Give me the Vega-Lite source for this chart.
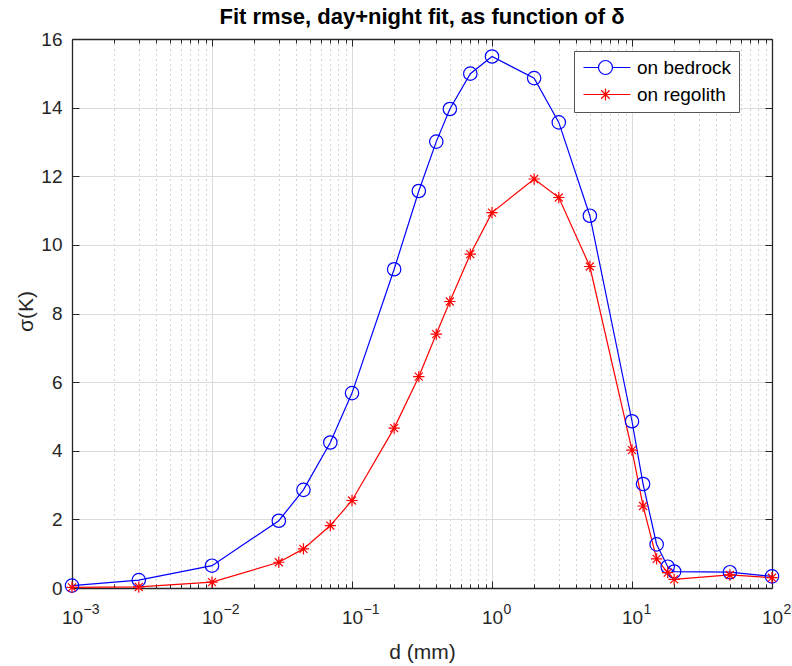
{
  "$schema": "https://vega.github.io/schema/vega-lite/v6.json",
  "width": 700,
  "height": 549,
  "autosize": {"type": "none"},
  "padding": {"left": 72, "top": 39, "right": 20, "bottom": 78},
  "background": "white",
  "title": {
    "text": "Fit rmse, day+night fit, as function of δ",
    "font": "Liberation Sans",
    "fontSize": 22,
    "fontWeight": "bold",
    "color": "#000000",
    "anchor": "middle",
    "frame": "group",
    "baseline": "alphabetic",
    "offset": 13,
    "dy": 29
  },
  "config": {
    "view": {"stroke": null},
    "axis": {
      "labelFont": "Liberation Sans",
      "titleFont": "Liberation Sans",
      "labelColor": "#262626",
      "titleColor": "#262626",
      "domainColor": "#262626",
      "tickColor": "#262626",
      "domainWidth": 1.3,
      "tickWidth": 1,
      "labelFlush": false,
      "labelOverlap": false,
      "labelBound": false
    }
  },
  "datasets": {
    "rmse": [
      {"d": 0.001, "sigma": 0.07, "series": "on bedrock"},
      {"d": 0.003, "sigma": 0.23, "series": "on bedrock"},
      {"d": 0.01, "sigma": 0.65, "series": "on bedrock"},
      {"d": 0.03, "sigma": 1.96, "series": "on bedrock"},
      {"d": 0.045, "sigma": 2.86, "series": "on bedrock"},
      {"d": 0.07, "sigma": 4.24, "series": "on bedrock"},
      {"d": 0.1, "sigma": 5.68, "series": "on bedrock"},
      {"d": 0.2, "sigma": 9.29, "series": "on bedrock"},
      {"d": 0.3, "sigma": 11.57, "series": "on bedrock"},
      {"d": 0.4, "sigma": 13.01, "series": "on bedrock"},
      {"d": 0.5, "sigma": 13.96, "series": "on bedrock"},
      {"d": 0.7, "sigma": 14.99, "series": "on bedrock"},
      {"d": 1, "sigma": 15.49, "series": "on bedrock"},
      {"d": 2, "sigma": 14.86, "series": "on bedrock"},
      {"d": 3, "sigma": 13.57, "series": "on bedrock"},
      {"d": 5, "sigma": 10.85, "series": "on bedrock"},
      {"d": 10, "sigma": 4.86, "series": "on bedrock"},
      {"d": 12, "sigma": 3.03, "series": "on bedrock"},
      {"d": 15, "sigma": 1.27, "series": "on bedrock"},
      {"d": 18, "sigma": 0.62, "series": "on bedrock"},
      {"d": 20, "sigma": 0.48, "series": "on bedrock"},
      {"d": 50, "sigma": 0.46, "series": "on bedrock"},
      {"d": 100, "sigma": 0.34, "series": "on bedrock"},
      {"d": 0.001, "sigma": 0.02, "series": "on regolith"},
      {"d": 0.003, "sigma": 0.03, "series": "on regolith"},
      {"d": 0.01, "sigma": 0.17, "series": "on regolith"},
      {"d": 0.03, "sigma": 0.75, "series": "on regolith"},
      {"d": 0.045, "sigma": 1.14, "series": "on regolith"},
      {"d": 0.07, "sigma": 1.82, "series": "on regolith"},
      {"d": 0.1, "sigma": 2.55, "series": "on regolith"},
      {"d": 0.2, "sigma": 4.66, "series": "on regolith"},
      {"d": 0.3, "sigma": 6.16, "series": "on regolith"},
      {"d": 0.4, "sigma": 7.4, "series": "on regolith"},
      {"d": 0.5, "sigma": 8.35, "series": "on regolith"},
      {"d": 0.7, "sigma": 9.73, "series": "on regolith"},
      {"d": 1, "sigma": 10.94, "series": "on regolith"},
      {"d": 2, "sigma": 11.92, "series": "on regolith"},
      {"d": 3, "sigma": 11.38, "series": "on regolith"},
      {"d": 5, "sigma": 9.37, "series": "on regolith"},
      {"d": 10, "sigma": 4.02, "series": "on regolith"},
      {"d": 12, "sigma": 2.39, "series": "on regolith"},
      {"d": 15, "sigma": 0.85, "series": "on regolith"},
      {"d": 18, "sigma": 0.45, "series": "on regolith"},
      {"d": 20, "sigma": 0.25, "series": "on regolith"},
      {"d": 50, "sigma": 0.38, "series": "on regolith"},
      {"d": 100, "sigma": 0.3, "series": "on regolith"}
    ]
  },
  "data": {"name": "rmse"},
  "layer": [
    {
      "transform": [{"filter": "datum.series === 'on bedrock'"}],
      "mark": {"type": "line", "strokeWidth": 1.2},
      "encoding": {
        "x": {
          "field": "d", "type": "quantitative",
          "scale": {"type": "log", "domain": [0.001, 100], "nice": false},
          "axis": {
            "orient": "bottom",
            "values": [0.001, 0.01, 0.1, 1, 10, 100],
            "labelExpr": "'10'",
            "labelFontSize": 19,
            "labelPadding": 27,
            "labelBaseline": "top",
            "tickSize": -7,
            "grid": true,
            "gridColor": "#dcdcdc",
            "gridWidth": 1,
            "title": "d (mm)",
            "titleFontSize": 21,
            "titleFontWeight": "normal",
            "titleBaseline": "alphabetic",
            "titleX": 350,
            "titleY": 70,
            "titleAnchor": "middle"
          }
        },
        "y": {
          "field": "sigma", "type": "quantitative",
          "scale": {"domain": [0, 16], "nice": false, "zero": true},
          "axis": {
            "orient": "left",
            "values": [0, 2, 4, 6, 8, 10, 12, 14, 16],
            "labelFontSize": 19,
            "labelPadding": 17,
            "tickSize": -7,
            "grid": true,
            "gridColor": "#dcdcdc",
            "gridWidth": 1,
            "title": "σ(K)",
            "titleFontSize": 21,
            "titleFontWeight": "normal",
            "titleAngle": -90,
            "titleBaseline": "alphabetic",
            "titleX": -40,
            "titleY": 272,
            "titleAlign": "center"
          }
        },
        "color": {
          "field": "series", "type": "nominal",
          "scale": {"domain": ["on bedrock", "on regolith"], "range": ["#0000ff", "#ff0000"]},
          "legend": {
            "title": null,
            "orient": "none",
            "legendX": 502,
            "legendY": 12,
            "fillColor": "white",
            "strokeColor": "#555555",
            "padding": 7,
            "labelFont": "Liberation Sans",
            "labelFontSize": 19,
            "labelColor": "#000000",
            "labelOffset": 37,
            "rowPadding": 7,
            "symbolSize": 196,
            "symbolStrokeWidth": 1.2,
            "encode": {
              "symbols": {
                "update": {
                  "shape": {"signal": "datum.value === 'on bedrock' ? 'M-1,0L1.14,0M3.14,0L5.7,0M1.14,0A1,1,0,1,0,3.14,0A1,1,0,1,0,1.14,0' : 'M-1,0L5.7,0M2.14,-0.86L2.14,0.86M1.53,-0.61L2.75,0.61M1.53,0.61L2.75,-0.61'"},
                  "fill": {"value": "transparent"},
                  "stroke": {"signal": "datum.value === 'on bedrock' ? '#0000ff' : '#ff0000'"},
                  "strokeWidth": {"value": 1.2},
                  "opacity": {"value": 1}
                }
              }
            }
          }
        }
      }
    },
    {
      "transform": [{"filter": "datum.series === 'on regolith'"}],
      "mark": {"type": "line", "strokeWidth": 1.2},
      "encoding": {
        "x": {
          "field": "d", "type": "quantitative",
          "axis": {
            "orient": "bottom",
            "values": [0.001, 0.01, 0.1, 1, 10, 100],
            "labelExpr": "format(round(log(datum.value) / LN10), 'd')",
            "labelFontSize": 14,
            "labelAlign": "left",
            "labelOffset": 11,
            "labelPadding": 14,
            "labelBaseline": "top",
            "ticks": false,
            "domain": false,
            "grid": false,
            "title": null
          }
        },
        "y": {
          "field": "sigma", "type": "quantitative",
          "axis": {
            "orient": "right",
            "values": [0, 2, 4, 6, 8, 10, 12, 14, 16],
            "labels": false,
            "tickSize": -7,
            "grid": false,
            "title": null
          }
        },
        "color": {"field": "series", "type": "nominal"}
      }
    },
    {
      "transform": [{"filter": "datum.series === 'on bedrock'"}],
      "mark": {"type": "point", "shape": "circle", "filled": false, "size": 180, "strokeWidth": 1.2, "opacity": 1},
      "encoding": {
        "x": {
          "field": "d", "type": "quantitative",
          "axis": {
            "orient": "bottom",
            "values": [0.002, 0.003, 0.004, 0.005, 0.006, 0.007, 0.008, 0.009, 0.02, 0.03, 0.04, 0.05, 0.06, 0.07, 0.08, 0.09, 0.2, 0.3, 0.4, 0.5, 0.6, 0.7, 0.8, 0.9, 2, 3, 4, 5, 6, 7, 8, 9, 20, 30, 40, 50, 60, 70, 80, 90],
            "labels": false,
            "tickSize": -4,
            "domain": false,
            "grid": true,
            "gridColor": "#a8a8a8",
            "gridDash": [1, 4],
            "gridWidth": 1,
            "title": null
          }
        },
        "y": {"field": "sigma", "type": "quantitative", "axis": null},
        "color": {"field": "series", "type": "nominal"}
      }
    },
    {
      "transform": [{"filter": "datum.series === 'on regolith'"}],
      "mark": {"type": "point", "shape": "M-1,0L1,0M0,-1L0,1M-0.7,-0.7L0.7,0.7M-0.7,0.7L0.7,-0.7", "filled": false, "size": 130, "strokeWidth": 1.2, "opacity": 1},
      "encoding": {
        "x": {
          "field": "d", "type": "quantitative",
          "axis": {
            "orient": "top",
            "values": [0.001, 0.002, 0.003, 0.004, 0.005, 0.006, 0.007, 0.008, 0.009, 0.01, 0.02, 0.03, 0.04, 0.05, 0.06, 0.07, 0.08, 0.09, 0.1, 0.2, 0.3, 0.4, 0.5, 0.6, 0.7, 0.8, 0.9, 1, 2, 3, 4, 5, 6, 7, 8, 9, 10, 20, 30, 40, 50, 60, 70, 80, 90, 100],
            "labels": false,
            "tickSize": {"condition": {"test": "abs(log(datum.value) / LN10 - round(log(datum.value) / LN10)) < 0.01", "value": -7}, "value": -4},
            "grid": false,
            "title": null
          }
        },
        "y": {"field": "sigma", "type": "quantitative", "axis": null},
        "color": {"field": "series", "type": "nominal"}
      }
    }
  ],
  "resolve": {"axis": {"x": "independent", "y": "independent"}}
}
